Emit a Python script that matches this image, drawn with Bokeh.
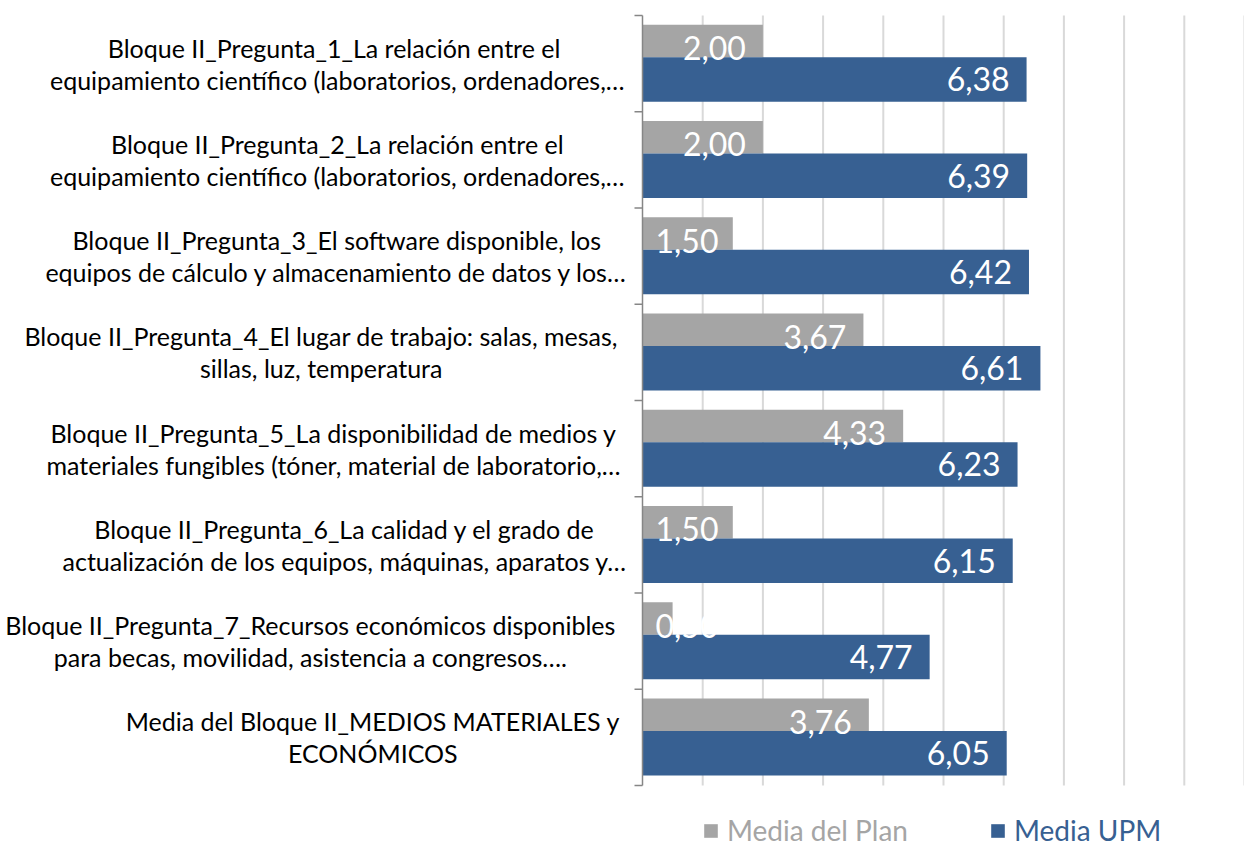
from bokeh.plotting import figure
from bokeh.models import Range1d, Legend, LegendItem, ColumnDataSource
from bokeh.core.properties import value, field
from bokeh.embed import file_html
from bokeh.resources import INLINE

categories = [
    "Bloque II_Pregunta_1_La relación entre  el\nequipamiento científico (laboratorios, ordenadores,…",
    "Bloque II_Pregunta_2_La relación entre el\nequipamiento científico (laboratorios, ordenadores,…",
    "Bloque II_Pregunta_3_El software disponible, los\nequipos de cálculo y almacenamiento de datos y los…",
    "Bloque II_Pregunta_4_El lugar de trabajo: salas, mesas,\nsillas, luz, temperatura",
    "Bloque II_Pregunta_5_La disponibilidad de medios y\nmateriales fungibles (tóner, material de laboratorio,…",
    "Bloque II_Pregunta_6_La calidad y el grado de\nactualización de los equipos, máquinas, aparatos y…",
    "Bloque II_Pregunta_7_Recursos económicos disponibles\npara becas, movilidad, asistencia a congresos….",
    "Media del Bloque II_MEDIOS MATERIALES y\nECONÓMICOS",
]
media_plan = [2.00, 2.00, 1.50, 3.67, 4.33, 1.50, 0.50, 3.76]
media_upm = [6.38, 6.39, 6.42, 6.61, 6.23, 6.15, 4.77, 6.05]
series_names = ["Media del Plan", "Media UPM"]
x_ticks = list(range(1, 11))

GRAY = "#A5A5A5"
BLUE = "#376092"
GRID = "#D9D9D9"
AXIS = "#868686"
FONT = "Lato"

# ---- layout (pixels) ----
W, H = 1244, 848
AX_X = 642          # pixel position of value 0
PXU = 60.2          # pixels per unit on the value axis
TOP_PX = 15         # top of the category area
CAT_PX = 96.25      # pixels per category band
CAT_FONT = 25
LINE_H = 1.06
LABEL_RIGHT = 617   # right edge of the category label blocks

n = len(categories)
idx = list(range(n))

x_start = -AX_X / PXU
x_end = (W - AX_X) / PXU
y_top = -0.5 - TOP_PX / CAT_PX
y_bot = -0.5 + (H - TOP_PX) / CAT_PX

p = figure(width=W, height=H, output_backend="svg", toolbar_location=None,
           x_range=Range1d(x_start, x_end), y_range=Range1d(y_bot, y_top),
           min_border_left=0, min_border_right=0, min_border_top=0,
           min_border_bottom=0)
p.outline_line_color = None
p.axis.visible = False
p.grid.visible = False

# grid lines over the category area
p.segment(x0=x_ticks, x1=x_ticks, y0=-0.5, y1=n - 0.5,
          line_color=GRID, line_width=2)

# bars
gray_y = [i - 0.5 + 0.265 for i in idx]
blue_y = [i - 0.5 + 0.664 for i in idx]
r_gray = p.hbar(y=gray_y, left=0, right=media_plan, height=0.336,
                fill_color=GRAY, line_color=None)
r_blue = p.hbar(y=blue_y, left=0, right=media_upm, height=0.462,
                fill_color=BLUE, line_color=None)

# category axis: line + tick marks at band boundaries
bounds = [i - 0.5 for i in range(n + 1)]
p.segment(x0=[0], x1=[0], y0=[-0.5], y1=[n - 0.5], line_color=AXIS, line_width=1.5)
p.segment(x0=-8 / PXU, x1=0, y0=bounds, y1=bounds, line_color=AXIS, line_width=1.5)

# approximate Lato advance widths (em) to centre each label block
CW = dict(a=.49, b=.55, c=.44, d=.55, e=.51, f=.31, g=.50, h=.55, i=.23, j=.23,
          k=.50, l=.23, m=.83, n=.55, o=.55, p=.55, q=.55, r=.35, s=.41, t=.33,
          u=.55, v=.49, w=.76, x=.49, y=.49, z=.44)
CW.update({"á": .49, "é": .51, "í": .23, "ó": .55, "ú": .55, "ñ": .55,
           "I": .27, "M": .85, "E": .55, "D": .71, "O": .76, "Ó": .76, "S": .52,
           "A": .66, "T": .57, "R": .60, "L": .48, "C": .65, "N": .74, "P": .58,
           "B": .62, "_": .42, " ": .19, ",": .2, ".": .2, ":": .22, "(": .29,
           ")": .29, "…": .78})


def text_w(s):
    return sum(CW.get(ch, .58) for ch in s) * 1.047 * CAT_FONT


cat_x = []
for c in categories:
    w = max(text_w(line.rstrip("…")) for line in c.split("\n"))
    cat_x.append((LABEL_RIGHT - w / 2 - AX_X) / PXU)

p.text(x=cat_x, y=idx, text=categories, text_align="center", text_baseline="middle",
       text_line_height=LINE_H, text_color="black", text_font=value(FONT),
       text_font_size=f"{CAT_FONT}px")

# data labels
LABEL_SIZE = 32
TEXT_W = 64


def label_source(vals, ys):
    txt = [f"{v:.2f}".replace(".", ",") for v in vals]
    align, xs, xoff = [], [], []
    for v in vals:
        if v * PXU - 17 - TEXT_W >= 13:
            align.append("right"); xs.append(v); xoff.append(-17)
        else:
            align.append("left"); xs.append(0); xoff.append(13)
    return ColumnDataSource(dict(x=xs, y=ys, text=txt, align=align, xoff=xoff))


src_g = label_source(media_plan, gray_y)
src_b = label_source(media_upm, blue_y)
p.text(x="x", y="y", text="text", source=src_g, text_align=field("align"),
       x_offset="xoff", y_offset=7, text_baseline="middle", text_color="white",
       text_font=value(FONT), text_font_size=f"{LABEL_SIZE}px")
p.text(x="x", y="y", text="text", source=src_b, text_align=field("align"),
       x_offset="xoff", y_offset=0, text_baseline="middle", text_color="white",
       text_font=value(FONT), text_font_size=f"{LABEL_SIZE}px")

# legends
for name, r, col, xloc in [(series_names[0], r_gray, GRAY, 702),
                           (series_names[1], r_blue, BLUE, 989)]:
    leg = Legend(items=[LegendItem(label=name, renderers=[r])], location=(xloc, 1),
                 orientation="horizontal", label_text_color=col,
                 label_text_font=FONT, label_text_font_size="28px",
                 glyph_width=17, glyph_height=17, label_standoff=8,
                 padding=0, margin=0, spacing=0, border_line_color=None,
                 background_fill_alpha=0)
    p.add_layout(leg)

open("out.html", "w").write(file_html(p, INLINE))
